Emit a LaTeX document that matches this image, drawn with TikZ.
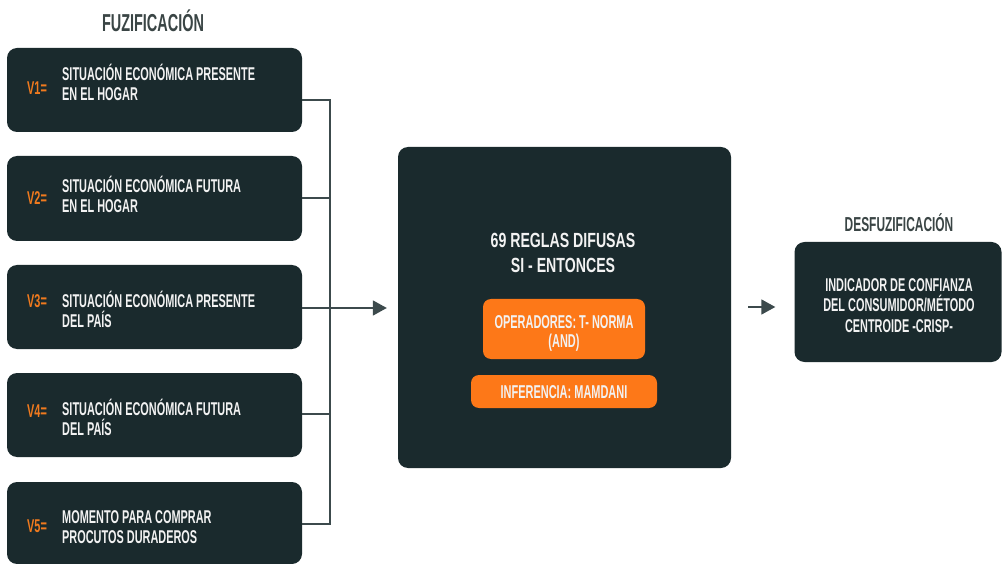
\documentclass[tikz,border=0pt]{standalone}
\usepackage{fontspec}
\newfontfamily\condfont{Liberation Sans}[FakeStretch=0.59]
\newfontfamily\condwide{Liberation Sans}[FakeStretch=0.69]
\usetikzlibrary{arrows.meta}
\definecolor{panel}{HTML}{1A2A2D}
\definecolor{accent}{HTML}{FD7818}
\definecolor{vlab}{HTML}{F07A1E}
\definecolor{wire}{HTML}{3C4A4C}
\definecolor{heading}{HTML}{3A4545}
\definecolor{paper}{HTML}{F2F2F2}
\tikzset{
  panelbox/.style={fill=panel, rounded corners=10pt, inner sep=0pt, draw=none},
  pillbox/.style={fill=accent, rounded corners=8pt, inner sep=0pt, draw=none},
  boxtext/.style={text=paper, align=left, inner sep=0pt,
    font={\condfont\bfseries\fontsize{18.5}{20}\selectfont}},
  vtag/.style={text=vlab, inner sep=0pt,
    font={\condfont\bfseries\fontsize{18.5}{20}\selectfont}},
  headtext/.style={text=heading, inner sep=0pt, anchor=base},
  wireline/.style={draw=wire, line width=1.8pt},
  flowarrow/.style={draw=wire, line width=1.8pt, -{Triangle[length=14pt,width=15pt]}},
}
\begin{document}
\begin{tikzpicture}[x=1pt,y=-1pt]
\useasboundingbox[fill=white] (0,0) rectangle (1002,564);

% section headings
\node[headtext, font={\condfont\bfseries\fontsize{24.5}{26}\selectfont}] (hfuz) at (153,32) {FUZIFICACIÓN};
\node[headtext, font={\condfont\bfseries\fontsize{20.2}{22}\selectfont}] (hdes) at (899,232) {DESFUZIFICACIÓN};

% input variables
\node[panelbox, minimum width=295pt, minimum height=84pt] (v1) at (154.5,90) {};
\node[panelbox, minimum width=295pt, minimum height=85pt] (v2) at (154.5,198.5) {};
\node[panelbox, minimum width=295pt, minimum height=84pt] (v3) at (154.5,307) {};
\node[panelbox, minimum width=295pt, minimum height=84pt] (v4) at (154.5,415) {};
\node[panelbox, minimum width=295pt, minimum height=82pt] (v5) at (154.5,523) {};

\node[vtag, anchor=base west] (v1l) at (27,95) {V1=};
\node[vtag, anchor=base west] (v2l) at (27,205) {V2=};
\node[vtag, anchor=base west] (v3l) at (27,308) {V3=};
\node[vtag, anchor=base west] (v4l) at (27,417) {V4=};
\node[vtag, anchor=base west] (v5l) at (27,532) {V5=};

% multi-line labels are placed by the baseline of their last line
\node[boxtext, anchor=base west] (v1t) at (62,101) {SITUACIÓN ECONÓMICA PRESENTE\\EN EL HOGAR};
\node[boxtext, anchor=base west] (v2t) at (62,213) {SITUACIÓN ECONÓMICA FUTURA\\EN EL HOGAR};
\node[boxtext, anchor=base west] (v3t) at (62,327) {SITUACIÓN ECONÓMICA PRESENTE\\DEL PAÍS};
\node[boxtext, anchor=base west] (v4t) at (62,435) {SITUACIÓN ECONÓMICA FUTURA\\DEL PAÍS};
\node[boxtext, anchor=base west] (v5t) at (62,543) {MOMENTO PARA COMPRAR\\PROCUTOS DURADEROS};

% rule base
\node[panelbox, minimum width=333pt, minimum height=321pt] (rules) at (564.5,307.5) {};
\node[text=paper, inner sep=0pt, align=center, anchor=base,
      font={\condwide\bfseries\fontsize{20.5}{25}\selectfont}] (rulest) at (563,273) {69 REGLAS DIFUSAS\\SI - ENTONCES};
\node[pillbox, minimum width=162pt, minimum height=60pt] (ops) at (564,329) {};
\node[text=paper, inner sep=0pt, align=center, anchor=base,
      font={\condfont\bfseries\fontsize{18.6}{19}\selectfont}] (opst) at (564,347) {OPERADORES: T- NORMA\\(AND)};
\node[pillbox, minimum width=186pt, minimum height=33pt] (inf) at (564,391.5) {};
\node[text=paper, inner sep=0pt, anchor=base,
      font={\condfont\bfseries\fontsize{18.6}{19}\selectfont}] (inft) at (564,398) {INFERENCIA: MAMDANI};

% output
\node[panelbox, minimum width=207pt, minimum height=120pt] (out) at (898,302) {};
\node[text=paper, inner sep=0pt, align=center, anchor=base,
      font={\condfont\bfseries\fontsize{18.5}{20}\selectfont}] (outt) at (899,332) {INDICADOR DE CONFIANZA\\DEL CONSUMIDOR/MÉTODO\\CENTROIDE -CRISP-};

% collector bus
\coordinate (j1) at (330,100);
\coordinate (j2) at (330,198);
\coordinate (j3) at (330,308);
\coordinate (j4) at (330,414);
\coordinate (j5) at (330,524);
\draw[wireline] (v1.east |- j1) -- (j1);
\draw[wireline] (v2.east |- j2) -- (j2);
\draw[wireline] (v3.east |- j3) -- (j3);
\draw[wireline] (v4.east |- j4) -- (j4);
\draw[wireline] (v5.east |- j5) -- (j5);
\draw[wireline, line cap=rect] (j1) -- (j5);
\draw[flowarrow, shorten >=11pt] (j3) -- (rules.west |- j3);

\coordinate (a2) at (748,307);
\draw[flowarrow, shorten >=19pt] (a2) -- (out.west |- a2);
\end{tikzpicture}
\end{document}
